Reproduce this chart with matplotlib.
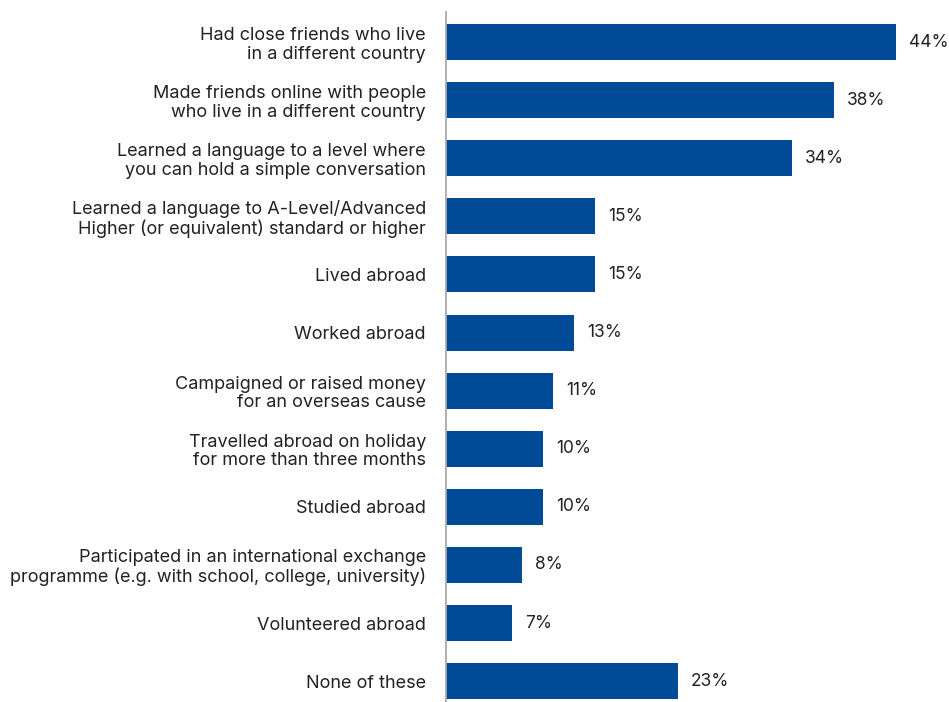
import matplotlib
matplotlib.use("Agg")
import matplotlib.pyplot as plt

plt.rcParams['font.family'] = ['Inter', 'DejaVu Sans']

categories = [
    "Had close friends who live\nin a different country",
    "Made friends online with people\nwho live in a different country",
    "Learned a language to a level where\nyou can hold a simple conversation",
    "Learned a language to A-Level/Advanced\nHigher (or equivalent) standard or higher",
    "Lived abroad",
    "Worked abroad",
    "Campaigned or raised money\nfor an overseas cause",
    "Travelled abroad on holiday\nfor more than three months",
    "Studied abroad",
    "Participated in an international exchange\nprogramme (e.g. with school, college, university)",
    "Volunteered abroad",
    "None of these",
]
values = [44, 38, 34, 15, 15, 13, 11, 10, 10, 8, 7, 23]

bar_color = '#004a98'
text_color = '#222222'

fig = plt.figure(figsize=(9.49, 7.02), dpi=100)
ax = fig.add_axes([0.470, 0.0, 0.530, 0.983])

y = list(range(len(categories)))
bars = ax.barh(y, values, height=0.62, color=bar_color)

ax.set_ylim(len(categories) - 1 + 0.36, -0.52)
# the value axis starts a touch past zero, so bars emerge from the divider line
ax.set_xlim(0.67, 49.1)

ax.set_yticks(y)
ax.set_yticklabels(categories, fontsize=13, color=text_color, linespacing=1.12)
ax.tick_params(axis='y', length=0, pad=14.5)
ax.set_xticks([])
for lbl in ax.get_yticklabels():
    lbl.set_horizontalalignment('right')
    lbl.set_multialignment('right')

for side in ['top', 'right', 'bottom']:
    ax.spines[side].set_visible(False)
ax.spines['left'].set_color('#aaaaaa')
ax.spines['left'].set_linewidth(1.3)

# percentage labels just past the end of each bar
for bar, v in zip(bars, values):
    ax.text(bar.get_width() + 1.25, bar.get_y() + bar.get_height() / 2, f"{v}%",
            va='center', ha='left', fontsize=12.5, color=text_color)

fig.savefig("out.png", dpi=100)
